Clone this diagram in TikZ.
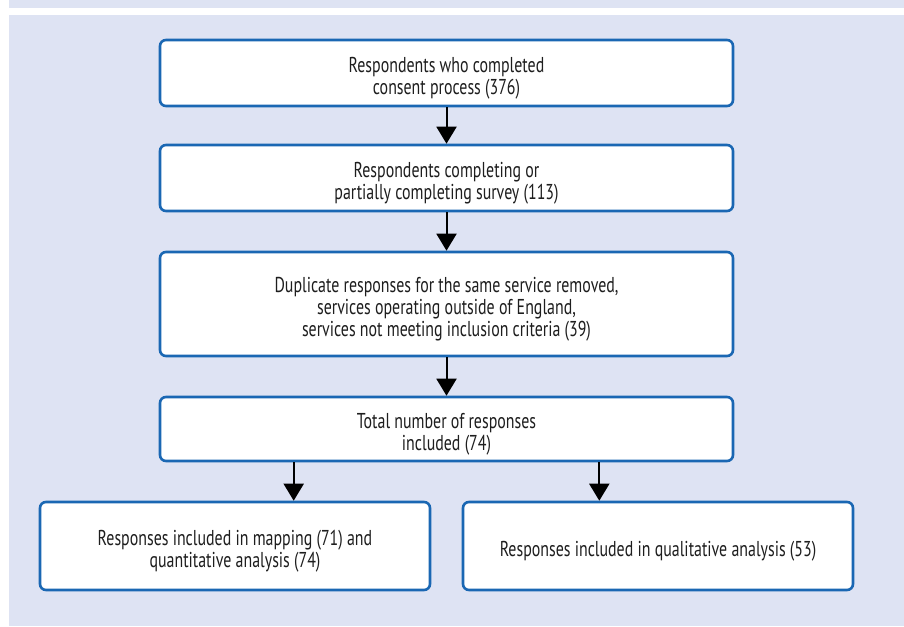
\documentclass[tikz,border=0pt]{standalone}
\usepackage{fontspec}
\setmainfont{PT Sans}[FakeStretch=0.74]
\usetikzlibrary{arrows.meta,calc}
\definecolor{bgblue}{HTML}{DEE3F3}
\definecolor{boxblue}{HTML}{1A67B3}
\definecolor{txt}{HTML}{1E1E1E}
\newcommand{\boxlines}[1]{\raisebox{-6pt}[\height][\depth]{\begin{tabular}{@{}c@{}}#1\end{tabular}}}
\tikzset{
  flowbox/.style={draw=boxblue, line width=2.6pt, fill=white, rounded corners=6pt,
    inner sep=0pt, text=txt,
    font=\fontsize{21.5}{22}\selectfont},
  arr/.style={line width=2pt, -{Triangle[length=17pt,width=20pt]}, black}
}
\begin{document}
\begin{tikzpicture}[x=1pt,y=-1pt]
\useasboundingbox (0,0) rectangle (904,626);
\fill[white] (0,0) rectangle (904,626);
\fill[bgblue] (9,0) rectangle (904,8);
\fill[bgblue] (9,15) rectangle (904,626);

\node[flowbox, minimum width=573pt, minimum height=66pt] (b1) at (446.5,73)
  {\boxlines{Respondents who completed\\consent process (376)}};
\node[flowbox, minimum width=573pt, minimum height=66pt] (b2) at (446.5,178)
  {\boxlines{Respondents completing or\\partially completing survey (113)}};
\node[flowbox, minimum width=573pt, minimum height=104pt] (b3) at (446.5,304)
  {\boxlines{Duplicate responses for the same service removed,\\services operating outside of England,\\services not meeting inclusion criteria (39)}};
\node[flowbox, minimum width=573pt, minimum height=64pt] (b4) at (446.5,429)
  {\boxlines{Total number of responses\\included (74)}};
\node[flowbox, minimum width=390pt, minimum height=88pt] (b5) at (235,546)
  {\boxlines{Responses included in mapping (71) and\\quantitative analysis (74)}};
\node[flowbox, minimum width=390pt, minimum height=88pt] (b6) at (658,546)
  {\boxlines{Responses included in qualitative analysis (53)}};

\draw[arr] (b1.south) -- (b2.north);
\draw[arr] (b2.south) -- (b3.north);
\draw[arr] (b3.south) -- (b4.north);
\draw[arr] ([xshift=135pt]b4.south west) -- ([xshift=135pt]b4.south west |- b5.north);
\draw[arr] ([xshift=-135pt]b4.south east) -- ([xshift=-135pt]b4.south east |- b6.north);
\end{tikzpicture}
\end{document}
